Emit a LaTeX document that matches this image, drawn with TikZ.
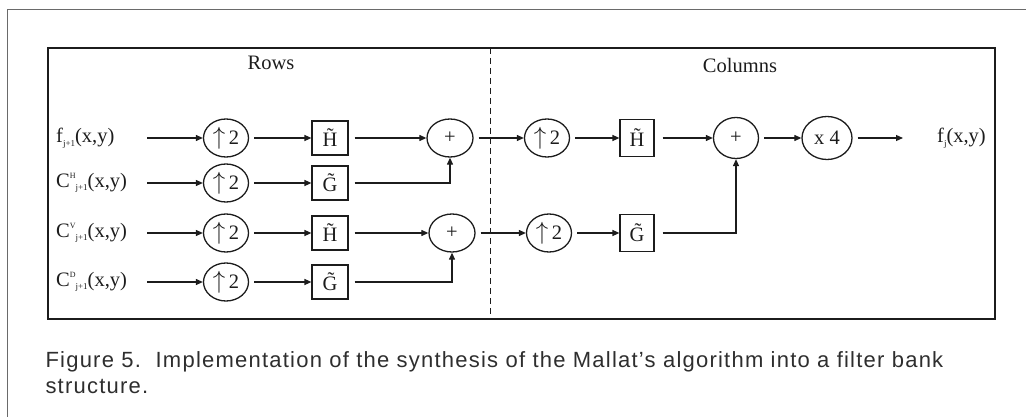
\documentclass[tikz,border=0pt]{standalone}
\usepackage{fontspec}
\setmainfont{Liberation Serif}
\newfontfamily\capfont[LetterSpace=5.6]{Liberation Sans}
\usetikzlibrary{arrows.meta,shapes.geometric}
\definecolor{ink}{HTML}{1C1C1C}
\definecolor{frame}{HTML}{6A6A6A}
\definecolor{captext}{HTML}{2E2E2E}
% small raised / lowered indices for the signal names
\newcommand\lowidx[1]{\raisebox{-3.5pt}{\fontsize{9}{9}\selectfont #1}}
\newcommand\highidx[1]{\raisebox{9pt}{\fontsize{8}{8}\selectfont #1}}
\newcommand\filtH{\~{H}}
\newcommand\filtG{\~{G}}
\newcommand\upby{{\fontsize{24}{24}\selectfont$\uparrow$}\,2}
\begin{document}
\begin{tikzpicture}[x=1pt,y=-1pt,
  every node/.style={font=\fontsize{20.5}{24}\selectfont, text=ink},
  oval/.style={ellipse, draw=ink, line width=1.3pt, minimum width=45pt,
    minimum height=38pt, inner sep=0pt},
  filt/.style={rectangle, draw=ink, line width=1.2pt, minimum width=36pt,
    minimum height=34pt, inner sep=0pt},
  flow/.style={draw=ink, line width=1.2pt, -{Triangle[length=7pt,width=6pt]}},
  gapped/.style={shorten <=5pt},
  sig/.style={anchor=west, inner sep=0pt}]
\useasboundingbox (0,0) rectangle (1026,417);

% page frame and diagram frame
\draw[frame, line width=1pt] (7,417) -- (7,10) -- (1026,10);
\draw[ink, line width=1.3pt] (48,48) rectangle (995,319);
\draw[ink, line width=1pt, dash pattern=on 6pt off 4pt] (490,48) -- (490,319);

\node (trows) at (271,63) {Rows};
\node (tcols) at (740,65) {Columns};

% input signals
\node[sig] (l1) at (56,138) {f\lowidx{j+1}(x,y)};
\node[sig] (l2) at (56,183) {C\highidx{H}\lowidx{j+1}(x,y)};
\node[sig] (l3) at (56,233) {C\highidx{V}\lowidx{j+1}(x,y)};
\node[sig] (l4) at (56,282) {C\highidx{D}\lowidx{j+1}(x,y)};
\coordinate (s1) at (147,138);
\coordinate (s2) at (147,183);
\coordinate (s3) at (147,233);
\coordinate (s4) at (147,282);

% row stage
\foreach \i/\y in {1/138,2/183,3/233,4/282}
  \node[oval] (u\i) at (226,\y) {\upby};
\node[filt] (b1) at (330,138) {\filtH};
\node[filt] (b2) at (330,183) {\filtG};
\node[filt] (b3) at (330,233) {\filtH};
\node[filt] (b4) at (330,282) {\filtG};
\node[oval, minimum width=46pt] (p1) at (450,138) {+};
\node[oval, minimum width=46pt] (p2) at (452,233) {+};

% column stage
\node[oval] (cu1) at (547,138) {\upby};
\node[oval] (cu2) at (549,233) {\upby};
\node[filt, minimum width=34pt, minimum height=37pt] (cb1) at (637,138) {\filtH};
\node[filt, minimum width=34pt, minimum height=37pt] (cb2) at (637,233) {\filtG};
\node[oval, minimum height=41pt] (cp) at (736,138) {+};
\node[oval, minimum width=50pt, minimum height=43pt] (m4) at (827,138) {x 4};
\coordinate (oend) at (903,138);
\node[sig] (out) at (937,138) {f\lowidx{j}(x,y)};

% connectors
\foreach \i in {1,2,3,4} {
  \draw[flow] (s\i) -- (u\i.west);
  \draw[flow, gapped] (u\i.east) -- (b\i.west);
}
\draw[flow, shorten <=6pt] (b1.east) -- (p1.west);
\draw[flow, shorten <=6pt] (b2.east) -| (p1.south);
\draw[flow, shorten <=6pt] (b3.east) -- (p2.west);
\draw[flow, shorten <=6pt] (b4.east) -| (p2.south);
\draw[flow, gapped] (p1.east) -- (cu1.west);
\draw[flow, gapped] (p2.east) -- (cu2.west);
\draw[flow, gapped] (cu1.east) -- (cb1.west);
\draw[flow, gapped] (cu2.east) -- (cb2.west);
\draw[flow, shorten <=8pt] (cb1.east) -- (cp.west);
\draw[flow, shorten <=8pt] (cb2.east) -| (cp.south);
\draw[flow, gapped] (cp.east) -- (m4.west);
\draw[flow, gapped] (m4.east) -- (oend);

% caption
\node[anchor=west, align=left, text=captext,
  font=\capfont\fontsize{22}{26}\selectfont] (cap) at (42,373)
  {Figure 5.\ \ Implementation of the synthesis of the Mallat’s algorithm into a filter bank\\structure.};
\end{tikzpicture}
\end{document}
